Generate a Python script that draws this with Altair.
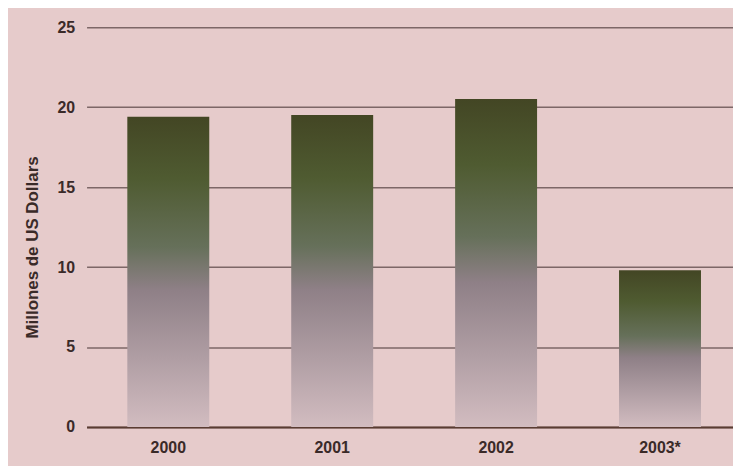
import altair as alt
import pandas as pd

years = ["2000", "2001", "2002", "2003*"]
values = [19.4, 19.5, 20.5, 9.8]
y_ticks = [0, 5, 10, 15, 20, 25]

df = pd.DataFrame({"year": years, "value": values})

grad = alt.Gradient(
    gradient="linear",
    x1=0, x2=0, y1=0, y2=1,
    stops=[
        alt.GradientStop(color="#434624", offset=0.0),
        alt.GradientStop(color="#4f5b31", offset=0.2),
        alt.GradientStop(color="#66705a", offset=0.42),
        alt.GradientStop(color="#8f8087", offset=0.56),
        alt.GradientStop(color="#b09ea4", offset=0.78),
        alt.GradientStop(color="#d2bcc0", offset=1.0),
    ],
)

bars = alt.Chart(df).mark_bar(color=grad).encode(
    x=alt.X(
        "year:N",
        sort=years,
        scale=alt.Scale(paddingInner=0.5, paddingOuter=0.222, align=0.56, round=False),
        axis=alt.Axis(
            title=None,
            labelAngle=0,
            labelFont="Liberation Sans",
            labelFontSize=16,
            labelFontWeight="bold",
            labelColor="#3a2a28",
            labelPadding=13,
            ticks=False,
            domain=True,
            domainColor="#5a3c32",
            domainWidth=2,
            grid=False,
        ),
    ),
    y=alt.Y(
        "value:Q",
        scale=alt.Scale(domain=[0, 25], nice=False),
        axis=alt.Axis(
            title="Millones de US Dollars",
            values=y_ticks,
            labelFont="Liberation Sans",
            labelFontSize=16,
            labelFontWeight="bold",
            labelColor="#3a2a28",
            labelPadding=12,
            ticks=False,
            domain=False,
            grid=True,
            gridColor="#6a5656",
            gridWidth=1.5,
            gridOpacity=0.85,
            titleFont="Liberation Sans",
            titleFontSize=17,
            titleFontWeight="bold",
            titleColor="#3a2a28",
            titleAngle=-90,
            titleX=-54,
            titleY=221,
            titleAlign="center",
            titleBaseline="middle",
        ),
    ),
)

chart = bars.properties(
    width=650,
    height=402,
    background="#e6cbcb",
    padding={"left": 79, "top": 18, "right": 0, "bottom": 38},
    autosize=alt.AutoSizeParams(type="none"),
).configure_view(stroke=None)

chart.save("out.html", embed_options={"renderer": "svg", "actions": False})
